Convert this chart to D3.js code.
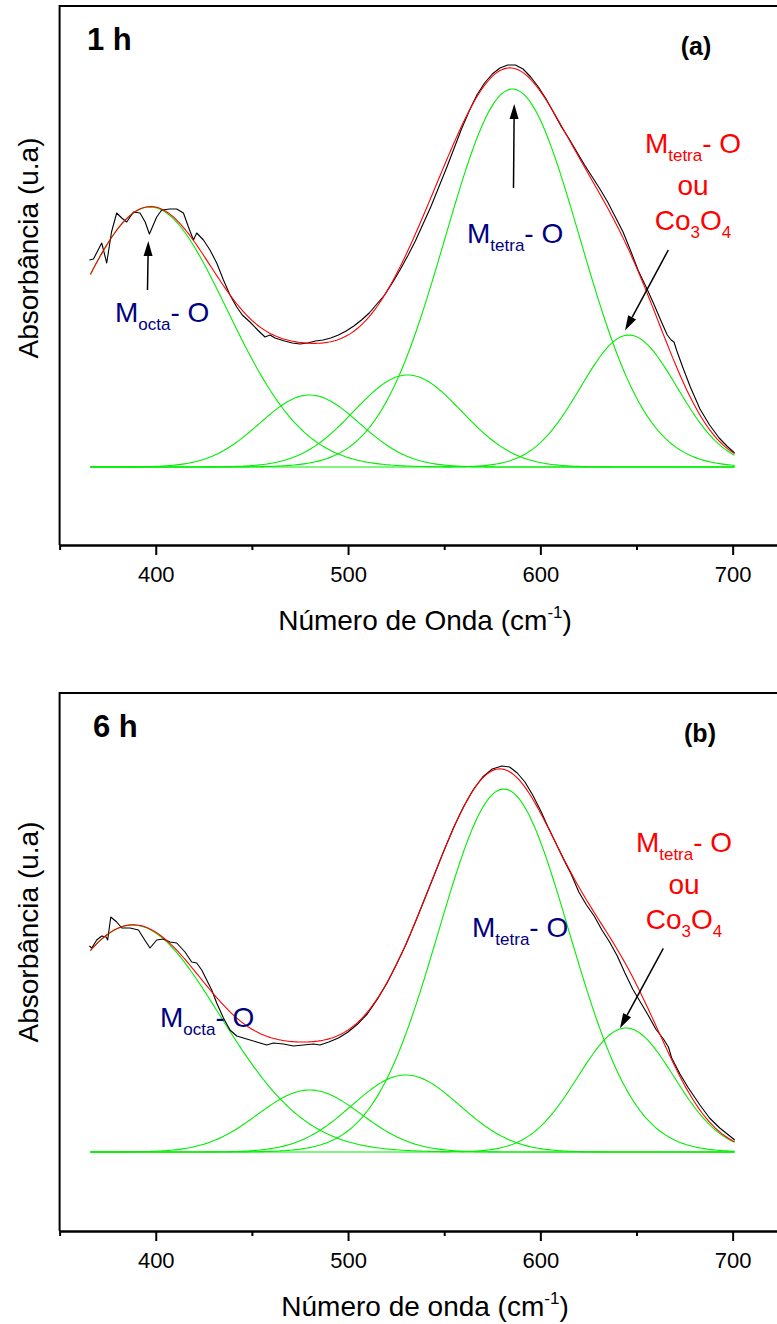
<!DOCTYPE html>
<html>
<head>
<meta charset="utf-8">
<script src="https://cdn.jsdelivr.net/npm/d3@7"></script>
<style>
  body { margin: 0; background: #fff; }
  svg { display: block; }
</style>
</head>
<body>
<svg id="chart" width="777" height="1324"></svg>
<script>
// ---- axis ticks ----
const majorTicks = [400, 500, 600, 700];
const minorTicks = [350, 450, 550, 650, 750];

// ---- (a) 1 h : measured spectrum ----
const waveA = [365.5, 367.6, 369.5, 371.9, 374.5, 377.0, 379.7, 382.3, 384.9, 388.4, 391.8, 394.5, 396.7,
  400.5, 403.1, 407.4, 410.9, 414.4, 417.0, 419.6, 421.3, 424.8, 428.2, 431.7, 435.2, 438.6, 442.1,
  445, 449, 453, 456.8, 459.5, 462, 467, 471, 475, 479, 483, 487, 491, 495, 499, 503, 507, 511, 515,
  519, 523, 527, 531, 535, 539, 543, 547, 551, 555, 559, 563, 567, 571, 575, 579, 583, 587, 591, 595,
  599, 603, 607, 611, 615, 619, 623, 627, 631, 635, 639, 643, 647, 651, 655, 659, 663, 666, 668, 669.5,
  671, 674, 678, 683, 688, 693, 697, 701];
const absA = [2.07, 2.08, 2.15, 2.24, 2.04, 2.35, 2.54, 2.49, 2.45, 2.55, 2.54, 2.45, 2.33,
  2.50, 2.57, 2.58, 2.58, 2.54, 2.40, 2.27, 2.34, 2.27, 2.17, 2.04, 1.87, 1.72, 1.60,
  1.52, 1.45, 1.37, 1.30, 1.32, 1.29, 1.26, 1.24, 1.23, 1.24, 1.26, 1.27, 1.29, 1.32, 1.36, 1.41, 1.47, 1.54, 1.63,
  1.72, 1.84, 1.97, 2.11, 2.26, 2.43, 2.60, 2.79, 2.98, 3.18, 3.38, 3.56, 3.72, 3.84, 3.93, 3.99, 4.02, 4.02, 3.98, 3.90,
  3.80, 3.68, 3.54, 3.40, 3.28, 3.15, 3.02, 2.90, 2.78, 2.65, 2.50, 2.35, 2.16, 1.96, 1.80, 1.63, 1.45, 1.32, 1.27, 1.25,
  1.16, 1.00, 0.80, 0.58, 0.42, 0.29, 0.21, 0.14];

// ---- (a) fitted gaussian bands ----
const centerA = [397, 480, 531, 585.5, 646];
const heightA = [2.60, 0.72, 0.92, 3.78, 1.32];
const sigmaA  = [40, 26, 28, 35, 25];

// ---- (b) 6 h : measured spectrum ----
const waveB = [365.5, 366.7, 369.3, 371.9, 374.2, 375.0, 376.6, 379.7, 382.3, 386.6, 391.0, 393.6, 397.0,
  400.5, 404.0, 407.4, 410.9, 415.2, 418.7, 421.3, 423.9, 426.5, 429.1, 431.7, 435.2, 438.6, 442.1,
  447.3, 452.5, 457.7, 461.2, 466.4, 471.6, 476.8, 482.0, 485.4, 490, 495, 500, 505, 510, 515, 520, 525,
  530, 535, 540, 545, 550, 555, 560, 565, 570, 575, 580, 584, 588, 592, 596, 600, 604, 608, 612, 616,
  620, 624, 628, 632, 636, 640, 644, 648, 652, 656, 660, 664, 666.6, 668.3, 672.6, 677, 683, 688, 693.3, 701.1];
const absB = [2.06, 2.04, 2.12, 2.16, 2.15, 2.12, 2.35, 2.30, 2.24, 2.24, 2.22, 2.14, 2.04,
  2.12, 2.13, 2.10, 2.09, 2.00, 1.90, 1.89, 1.82, 1.72, 1.62, 1.49, 1.34, 1.22, 1.16,
  1.13, 1.10, 1.07, 1.09, 1.08, 1.06, 1.07, 1.08, 1.07, 1.10, 1.14, 1.20, 1.28, 1.38, 1.52, 1.68, 1.87,
  2.07, 2.30, 2.54, 2.78, 3.02, 3.25, 3.45, 3.62, 3.75, 3.83, 3.86, 3.85, 3.79, 3.70, 3.57, 3.42, 3.25, 3.09, 2.93, 2.78,
  2.60, 2.47, 2.36, 2.22, 2.10, 1.96, 1.79, 1.63, 1.50, 1.37, 1.23, 1.13, 1.05, 0.94, 0.78, 0.64, 0.47, 0.34, 0.24, 0.12];

// ---- (b) fitted gaussian bands ----
const centerB = [388, 480, 530, 581, 644.5];
const heightB = [2.27, 0.62, 0.77, 3.63, 1.24];
const sigmaB  = [45, 27, 28, 34, 25];

const FONT = "'Liberation Sans', Arial, Helvetica, sans-serif";
const NAVY = "#000080";
const svg = d3.select("#chart");

const x = d3.scaleLinear().domain([350, 750]).range([59.6, 828.8]);
const fitRange = d3.range(366, 701.5, 1);

function gaussian(c, h, s) {
  return w => h * Math.exp(-((w - c) ** 2) / (2 * s * s));
}

function drawPanel(cfg) {
  const y = d3.scaleLinear().domain(cfg.yDomain).range([cfg.bottom, cfg.top]);
  const g = svg.append("g");

  const line = d3.line().x(d => x(d[0])).y(d => y(d[1]));

  // fitted bands
  const bands = cfg.centers.map((c, i) => gaussian(c, cfg.heights[i], cfg.sigmas[i]));
  bands.forEach(f => {
    g.append("path")
      .attr("d", line(fitRange.map(w => [w, f(w)])))
      .attr("fill", "none").attr("stroke", "#00ee00").attr("stroke-width", 1.1);
  });

  // measured spectrum
  g.append("path")
    .attr("d", line(cfg.wave.map((w, i) => [w, cfg.abs[i]])))
    .attr("fill", "none").attr("stroke", "#000").attr("stroke-width", 1.1)
    .attr("stroke-linejoin", "round");

  // cumulative fit
  g.append("path")
    .attr("d", line(fitRange.map(w => [w, d3.sum(bands, f => f(w))])))
    .attr("fill", "none").attr("stroke", "#ff0000").attr("stroke-width", 1.1);

  // frame
  g.append("path")
    .attr("d", `M${x(350)},${cfg.bottom}V${cfg.top}H${x(750)}`)
    .attr("fill", "none").attr("stroke", "#000").attr("stroke-width", 2);

  // bottom axis
  const axMinor = g.append("g").attr("transform", `translate(0,${cfg.bottom})`)
    .call(d3.axisBottom(x).tickValues(minorTicks).tickSize(5).tickSizeOuter(0).tickFormat(""));
  const axMajor = g.append("g").attr("transform", `translate(0,${cfg.bottom})`)
    .call(d3.axisBottom(x).tickValues(majorTicks).tickSize(10).tickSizeOuter(0).tickPadding(11));
  [axMinor, axMajor].forEach(a => {
    a.select(".domain").attr("stroke-width", 2);
    a.selectAll(".tick line").attr("stroke-width", 2);
  });
  axMajor.selectAll(".tick text").attr("font-family", FONT).attr("font-size", 22).attr("fill", "#000");

  // axis titles
  const xt = g.append("text").attr("x", 425).attr("y", cfg.bottom + 85)
    .attr("text-anchor", "middle").attr("font-family", FONT).attr("font-size", 28);
  xt.append("tspan").text(cfg.xTitle + " (cm");
  xt.append("tspan").attr("font-size", 17).attr("dy", -12).text("-1");
  xt.append("tspan").attr("dy", 12).text(")");

  g.append("text")
    .attr("transform", `translate(38,${cfg.yTitleY}) rotate(-90)`)
    .attr("text-anchor", "middle").attr("font-family", FONT).attr("font-size", 28)
    .text("Absorbância (u.a)");

  // panel labels
  g.append("text").attr("x", cfg.timeX).attr("y", cfg.top + 44)
    .attr("font-family", FONT).attr("font-size", 31).attr("font-weight", "bold").text(cfg.time);
  g.append("text").attr("x", cfg.letterX).attr("y", cfg.top + 49)
    .attr("text-anchor", "middle").attr("font-family", FONT).attr("font-size", 25)
    .attr("font-weight", "bold").text(cfg.letter);

  // band assignments
  function subLabel(px, py, base, sub, tail, color, anchor) {
    const t = g.append("text").attr("x", px).attr("y", py).attr("font-family", FONT)
      .attr("font-size", 28).attr("fill", color).attr("text-anchor", anchor || "start");
    t.append("tspan").text(base);
    t.append("tspan").attr("font-size", 17).attr("dy", 8).text(sub);
    t.append("tspan").attr("dy", -8).text(tail);
    return t;
  }
  subLabel(cfg.octa[0], cfg.octa[1], "M", "octa", "- O", NAVY);
  subLabel(cfg.tetra[0], cfg.tetra[1], "M", "tetra", "- O", NAVY);

  const [rx, ry] = cfg.red;
  subLabel(rx, ry, "M", "tetra", "- O", "#ff0000", "middle");
  g.append("text").attr("x", rx).attr("y", ry + 42).attr("text-anchor", "middle")
    .attr("font-family", FONT).attr("font-size", 28).attr("fill", "#ff0000").text("ou");
  const co = g.append("text").attr("x", rx).attr("y", ry + 77).attr("text-anchor", "middle")
    .attr("font-family", FONT).attr("font-size", 28).attr("fill", "#ff0000");
  co.append("tspan").text("Co");
  co.append("tspan").attr("font-size", 17).attr("dy", 8).text("3");
  co.append("tspan").attr("dy", -8).text("O");
  co.append("tspan").attr("font-size", 17).attr("dy", 8).text("4");

  // arrows
  cfg.arrows.forEach(a => {
    const [x1, y1, x2, y2] = a;
    const ang = Math.atan2(y2 - y1, x2 - x1);
    const L = 15, W = 4.5;
    const bx = x2 - L * Math.cos(ang), by = y2 - L * Math.sin(ang);
    g.append("line").attr("x1", x1).attr("y1", y1).attr("x2", bx).attr("y2", by)
      .attr("stroke", "#000").attr("stroke-width", 1.5);
    const px = -Math.sin(ang) * W, py = Math.cos(ang) * W;
    g.append("path")
      .attr("d", `M${x2},${y2}L${bx + px},${by + py}L${bx - px},${by - py}Z`)
      .attr("fill", "#000");
  });
}

drawPanel({
  top: 6, bottom: 545, yDomain: [-0.78, 4.61],
  wave: waveA, abs: absA, centers: centerA, heights: heightA, sigmas: sigmaA,
  xTitle: "Número de Onda", yTitleY: 248,
  time: "1 h", timeX: 87, letter: "(a)", letterX: 696,
  octa: [115, 322], tetra: [467, 243], red: [693, 153],
  arrows: [[147.5, 290, 148.3, 241], [513.5, 188, 514.2, 104], [668.3, 250, 625, 330.5]]
});

drawPanel({
  top: 693, bottom: 1231, yDomain: [-0.79, 4.59],
  wave: waveB, abs: absB, centers: centerB, heights: heightB, sigmas: sigmaB,
  xTitle: "Número de onda", yTitleY: 932,
  time: "6 h", timeX: 93, letter: "(b)", letterX: 700,
  octa: [160, 1026.5], tetra: [472, 937], red: [684, 851.5],
  arrows: [[663.3, 948.3, 620, 1028.3]]
});
</script>
</body>
</html>
